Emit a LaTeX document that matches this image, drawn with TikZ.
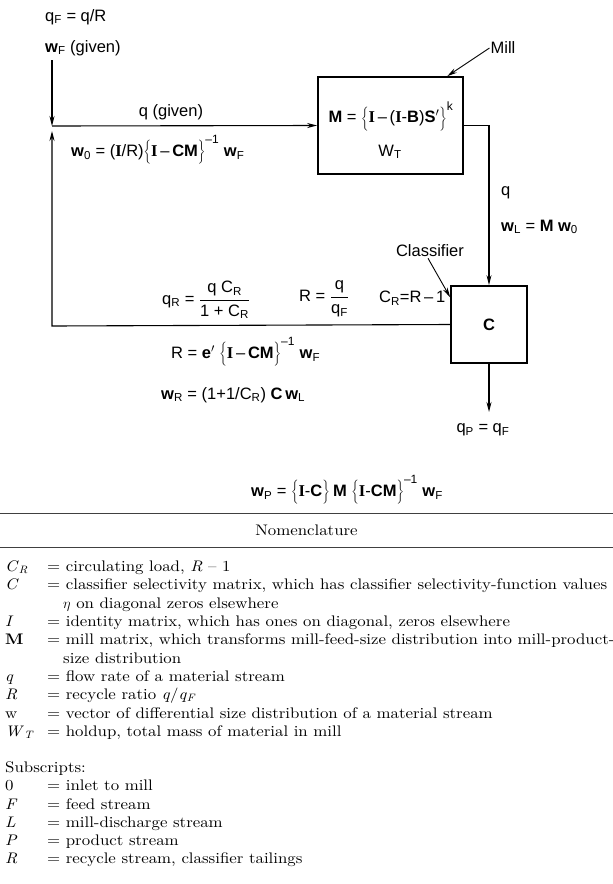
\documentclass[tikz,border=0pt]{standalone}
\usepackage{fontspec}
\usetikzlibrary{arrows.meta}
\newfontfamily\diagfont{Liberation Sans}
\newfontfamily\serifI{Liberation Serif}
\newfontfamily\nomfont[FakeStretch=1.1, ItalicFont=lmroman10-italic.otf, BoldFont=lmroman10-bold.otf]{lmroman10-regular.otf}
\newcommand{\Id}{{\serifI\bfseries I}}
\newcommand{\bw}{\textbf{w}}
\newcommand{\bM}{\textbf{M}}
\newcommand{\bC}{\textbf{C}}
\newcommand{\sub}[1]{\textsubscript{#1}}
\newcommand{\lbr}{$\Bigg\{$}
\newcommand{\rbr}[1]{$\Bigg\}^{\mbox{\fontsize{12}{12}\selectfont #1}}$}
\newcommand{\vfrac}[2]{${\displaystyle\frac{\mbox{#1}}{\mbox{#2}}}$}
\newcommand{\sym}[1]{\textit{#1}}
\begin{document}
\begin{tikzpicture}[x=1pt, y=-1pt, >={Stealth[length=10pt,width=5pt]},
	every node/.style={font=\diagfont\fontsize{16.5}{19}\selectfont, inner sep=1pt},
	unit/.style={draw, line width=1.7pt},
	flow/.style={line width=1.1pt},
	callout/.style={->, line width=0.9pt},
	nom/.style={font=\nomfont\fontsize{15.3}{18}\selectfont, anchor=base west, inner sep=0pt},
	hrule/.style={line width=0.8pt, black!75}]
	\useasboundingbox (0,0) rectangle (613,884);
	
	% Muehle und Klassierer
	\node[unit, minimum width=145pt, minimum height=97pt] (mill) at (390.5,125.5) {};
	\node (millM) at (391,116) {\bM\ = \lbr\Id\,\textendash\,(\Id-\textbf{B})\textbf{S}$'$\rbr{k}};
	\node (millW) at (390,152) {W\sub{T}};
	\node[unit, minimum width=76pt, minimum height=77pt] (clf) at (489,324.5) {\bC};
	
	% Punkte der Leitungen
	\coordinate (feedtop) at (52,60);
	\coordinate (junc) at (52,126);
	\coordinate (rcorner) at (52,326);
	\coordinate (rtip) at (52,131);
	\coordinate (prodtip) at (489,412);
	
	% Stroeme
	\draw[flow,->] (feedtop) -- (junc);
	\draw[flow,->] (junc) -- (mill.west);
	\draw[flow,->] (mill.east) -| (clf.north);
	\draw[flow,->] (clf.west) -- (rcorner) -- (rtip);
	\draw[flow,->] (clf.south) -- (prodtip);
	
	% Hinweise
	\node (millLbl) at (503,48) {Mill};
	\draw[callout] (millLbl.west) -- (mill.41);
	\node (clfLbl) at (430,251) {Classifier};
	\draw[callout] ([xshift=-2pt]clfLbl.south) -- (clf.145);
	
	% Beschriftungen
	\node[anchor=west] (qF) at (44,17) {q\sub{F} = q/R};
	\node[anchor=west] (wF) at (44,48) {\bw\sub{F} (given)};
	\node (qgiven) at (171,112) {q (given)};
	\node[anchor=west] (w0) at (70,150) {\bw\sub{0} = (\Id/R)\lbr\Id\,\textendash\,\bC\bM\rbr{\textendash1} \bw\sub{F}};
	\node[anchor=west] (qL) at (500,193) {q};
	\node[anchor=west] (wL) at (500,227) {\bw\sub{L} = \bM\ \bw\sub{0}};
	\node[anchor=west] (CR) at (378,298) {C\sub{R}=R\,\textendash\,1};
	\node[anchor=west] (Rq) at (298,299) {R = \vfrac{q}{q\sub{F}}};
	\node[anchor=west] (qR) at (161,300) {q\sub{R} = \vfrac{q C\sub{R}}{1 + C\sub{R}}};
	\node[anchor=west] (Re) at (170,352) {R = \textbf{e}$'$ \lbr\Id\,\textendash\,\bC\bM\rbr{\textendash1} \bw\sub{F}};
	\node[anchor=west] (wR) at (160,395) {\bw\sub{R} = (1+1/C\sub{R}) \bC\,\bw\sub{L}};
	\node (qP) at (483,430) {q\sub{P} = q\sub{F}};
	\node (wP) at (347,490) {\bw\sub{P} = \lbr\Id-\bC\rbr{}\,\bM\ \lbr\Id-\bC\bM\rbr{\textendash1} \bw\sub{F}};
	
	% Nomenklatur
	\draw[hrule] (0,513) -- (613,513);
	\node[font=\nomfont\fontsize{15.3}{18}\selectfont] (nomhead) at (306.5,530) {Nomenclature};
	\draw[hrule] (0,547) -- (613,547);
	\foreach \y/\s/\t [count=\i] in {
		571/{\sym{C}\sub{\sym{R}}}/{= circulating load, \sym{R} \textendash\ 1},
		589/{\sym{C}}/{= classifier selectivity matrix, which has classifier selectivity-function values},
		608/{}/{\hspace*{16pt}$\eta$ on diagonal zeros elsewhere},
		626/{\sym{I}}/{= identity matrix, which has ones on diagonal, zeros elsewhere},
		644/{\textbf{M}}/{= mill matrix, which transforms mill-feed-size distribution into mill-product-},
		663/{}/{\hspace*{16pt}size distribution},
		681/{\sym{q}}/{= flow rate of a material stream},
		699/{\sym{R}}/{= recycle ratio \sym{q}/\sym{q}\sub{\sym{F}}},
		718/{w}/{= vector of differential size distribution of a material stream},
		736/{\sym{W}\sub{\sym{T}}}/{= holdup, total mass of material in mill},
		772/{Subscripts:}/{},
		790/{0}/{= inlet to mill},
		809/{\sym{F}}/{= feed stream},
		827/{\sym{L}}/{= mill-discharge stream},
		845/{\sym{P}}/{= product stream},
		863/{\sym{R}}/{= recycle stream, classifier tailings}}
	{
		\node[nom] (sym\i) at (5,\y) {\s};
		\node[nom] (txt\i) at (47,\y) {\t};
	}
\end{tikzpicture}
\end{document}
